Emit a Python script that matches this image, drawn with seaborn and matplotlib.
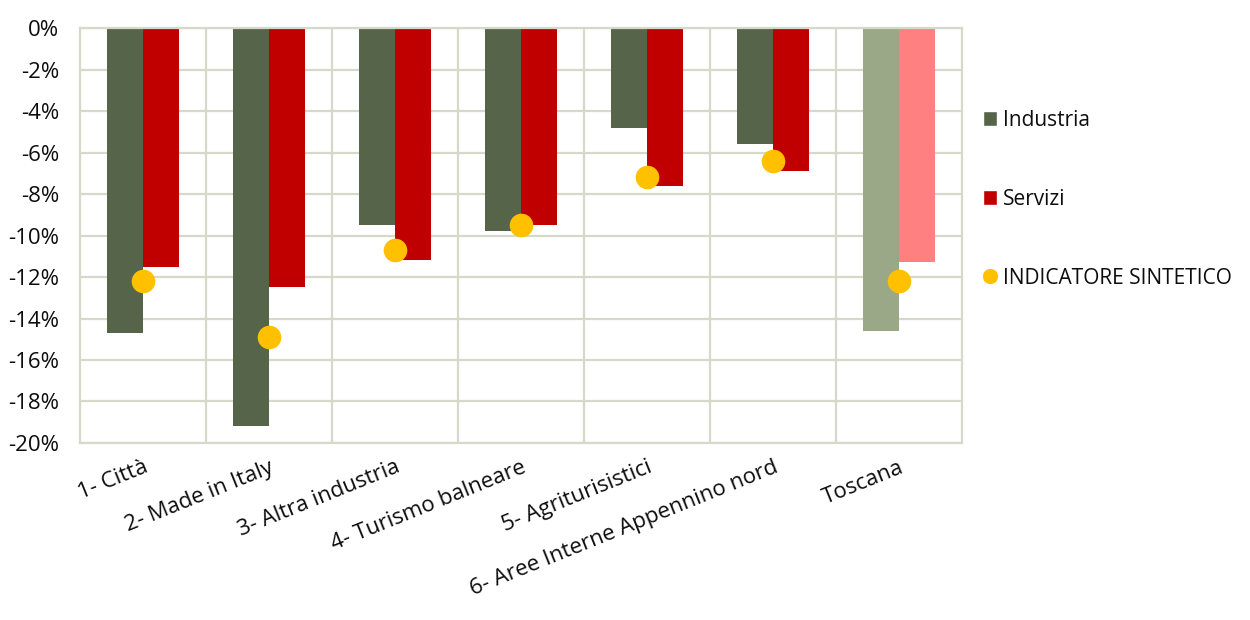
import matplotlib
matplotlib.use("Agg")
import matplotlib.pyplot as plt
from matplotlib.lines import Line2D
from matplotlib.patches import Patch
import seaborn as sns
import pandas as pd

categories = ["1- Città", "2- Made in Italy", "3- Altra industria", "4- Turismo balneare",
              "5- Agriturisistici", "6- Aree Interne Appennino nord", "Toscana"]
industria = [-14.7, -19.2, -9.5, -9.8, -4.8, -5.6, -14.6]
servizi = [-11.5, -12.5, -11.2, -9.5, -7.6, -6.9, -11.3]
indicatore = [-12.2, -14.9, -10.7, -9.5, -7.2, -6.4, -12.2]
yticks = [0, -2, -4, -6, -8, -10, -12, -14, -16, -18, -20]

c_ind = "#566449"
c_ser = "#C00000"
c_ind_light = "#9AA887"
c_ser_light = "#FF8080"
c_dot = "#FFC000"
grid_c = "#D6D9CA"
text_c = "#0D0D0D"

sns.set_theme(style="white")
plt.rcParams["font.family"] = ["Open Sans", "DejaVu Sans"]
plt.rcParams["text.color"] = text_c
plt.rcParams["xtick.labelcolor"] = text_c
plt.rcParams["ytick.labelcolor"] = text_c

df = pd.DataFrame({
    "cat": categories * 2,
    "val": industria + servizi,
    "serie": ["Industria"] * len(categories) + ["Servizi"] * len(categories),
})

fig = plt.figure(figsize=(12.5, 6.2), dpi=100)
ax = fig.add_axes([0.064, 0.2855, 0.7056, 0.6693])

sns.barplot(data=df, x="cat", y="val", hue="serie", order=categories,
            hue_order=["Industria", "Servizi"], palette=[c_ind, c_ser],
            width=0.57, saturation=1, legend=False, ax=ax, zorder=2)

# lighter shades for the regional total
n = len(categories)
for i, p in enumerate(ax.patches[:2 * n]):
    p.set_linewidth(0)
    if i == n - 1:
        p.set_facecolor(c_ind_light)
    elif i == 2 * n - 1:
        p.set_facecolor(c_ser_light)

sns.stripplot(x=categories, y=indicatore, order=categories, jitter=False,
              color=c_dot, size=17, linewidth=0, ax=ax, zorder=3)

ax.set_ylim(-20, 0)
ax.set_xlim(-0.5, n - 0.5)
ax.set_yticks(yticks)
ax.set_yticklabels([f"{v}%" for v in yticks], fontsize=16, color=text_c)
ax.set_xlabel("")
ax.set_ylabel("")

for y in yticks:
    ax.axhline(y, color=grid_c, lw=1.6, zorder=0)
for k in range(1, n):
    ax.axvline(k - 0.5, color=grid_c, lw=1.6, zorder=0)
for s in ax.spines.values():
    s.set_color(grid_c)
    s.set_linewidth(1.6)

ax.tick_params(axis="y", length=0, pad=15)
ax.tick_params(axis="x", length=0, pad=10)
ax.set_xticks(range(n))
ax.set_xticklabels(categories, rotation=22, ha="right", rotation_mode="anchor",
                   fontsize=16, color=text_c)

handles = [
    Patch(facecolor=c_ind, label="Industria"),
    Patch(facecolor=c_ser, label="Servizi"),
    Line2D([0], [0], marker="o", color="none", markerfacecolor=c_dot,
           markeredgewidth=0, markersize=11, label="INDICATORE SINTETICO"),
]
fig.legend(handles=handles, loc="upper left", bbox_to_anchor=(0.786, 0.823),
           frameon=False, fontsize=15, labelspacing=2.78, handlelength=0.7,
           handleheight=0.7, handletextpad=0.3, borderpad=0, borderaxespad=0,
           labelcolor=text_c)

fig.savefig("out.png", dpi=100)
